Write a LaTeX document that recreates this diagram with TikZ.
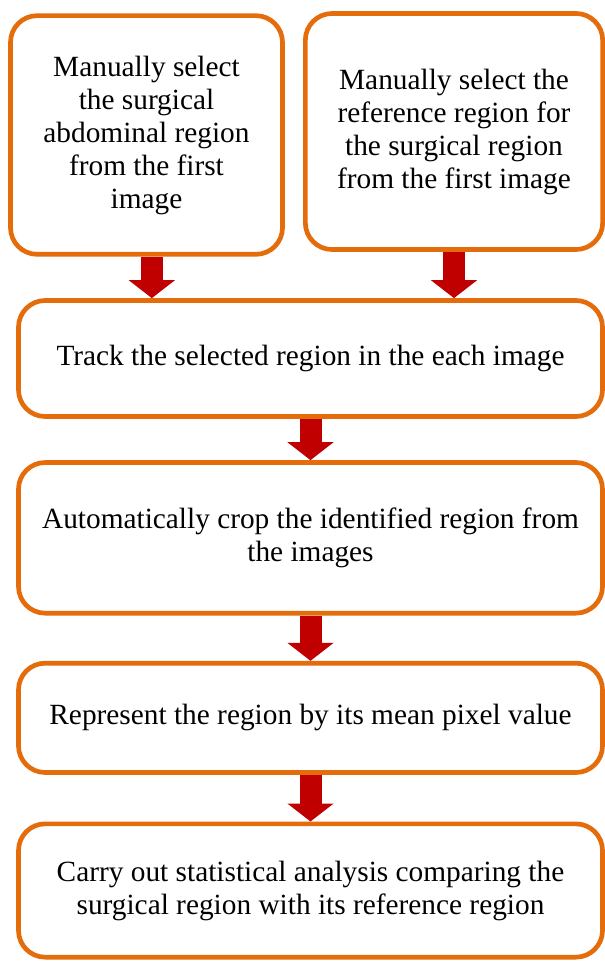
\documentclass[tikz,border=0pt]{standalone}
\usepackage{fontspec}
\setmainfont{Liberation Serif}
\usetikzlibrary{positioning,arrows.meta}
\definecolor{boxorange}{RGB}{228,108,10}
\definecolor{arrowred}{RGB}{192,0,0}

\begin{document}
\begin{tikzpicture}[x=0.75pt, y=-0.75pt,
    stepbox/.style={draw=boxorange, line width=3.5pt, rounded corners=20pt,
        align=center, fill=white, inner sep=4pt,
        font=\fontsize{22}{24.75}\selectfont},
    wide/.style={stepbox, minimum width=438pt},
    barrow/.style={draw=arrowred, line width=16.5pt,
        -{Triangle[width=34pt, length=13.5pt, fill=arrowred]}}]
            \useasboundingbox (0,0) rectangle (605,962);
            % nodes
            \node (s1) [stepbox, minimum width=204pt, minimum height=179pt] at (146.5,135)
                {Manually select\\the surgical\\abdominal region\\from the first\\image};
            \node (s2) [stepbox, minimum width=223pt, minimum height=177pt] at (454,131.5)
                {Manually select the\\reference region for\\the surgical region\\from the first image};
            \node (t1) [wide, minimum height=87pt] at (310.5,358.5)
                {Track the selected region in the each image};
            \node (c1) [wide, minimum height=113pt, below=31pt of t1]
                {Automatically crop the identified region from\\the images};
            \node (r1) [wide, minimum height=82pt, below=34pt of c1]
                {Represent the region by its mean pixel value};
            \node (a1) [wide, minimum height=100pt, below=35pt of r1]
                {Carry out statistical analysis comparing the\\surgical region with its reference region};
            % arrows
            \draw[barrow] ([xshift=4pt]s1.south) -- ([xshift=4pt]s1.south |- t1.north);
            \draw[barrow] (s2.south) -- (s2.south |- t1.north);
            \draw[barrow] (t1.south) -- (c1.north);
            \draw[barrow] (c1.south) -- (r1.north);
            \draw[barrow] (r1.south) -- (a1.north);
        \end{tikzpicture}
\end{document}
